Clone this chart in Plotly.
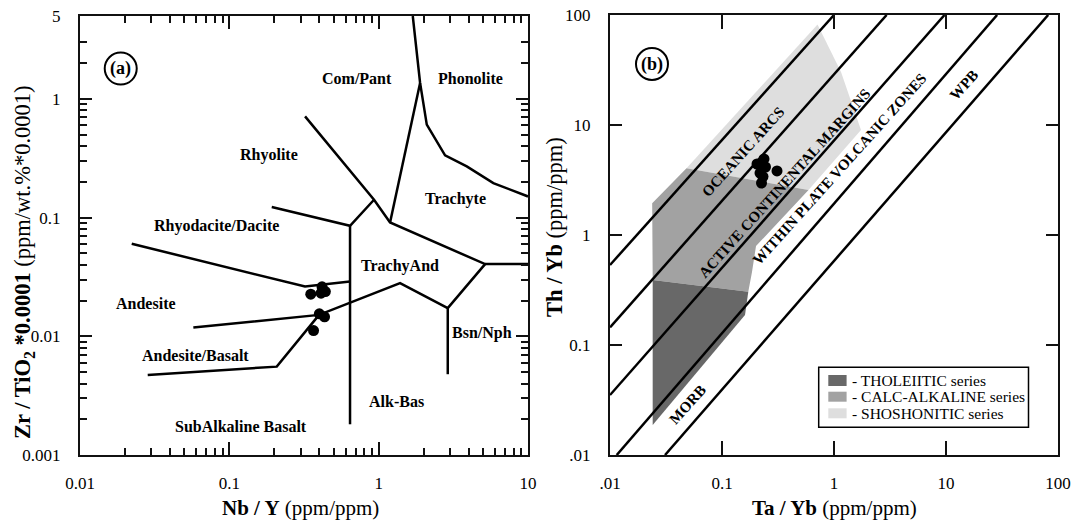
import numpy as np
import plotly.graph_objects as go

FONT = "Liberation Serif, Times New Roman, serif"

# ---------------- Panel (a): Nb/Y vs Zr/TiO2 field boundaries ----------------
phon_x = [1.692, 1.894, 2.100, 2.784, 3.89, 5.86, 10.0]
phon_y = [5.0, 1.364, 0.607, 0.3345, 0.270, 0.1956, 0.1508]
trl_x = [1.894, 1.192]
trl_y = [1.364, 0.0910]
rhy_x = [0.3214, 0.931, 1.192, 5.16, 10.0]
rhy_y = [0.713, 0.1415, 0.0910, 0.0406, 0.0406]
rdc_x = [0.1923, 0.643, 0.931]
rdc_y = [0.1228, 0.0854, 0.1415]
vert_x = [0.643, 0.643]
vert_y = [0.0854, 0.001815]
and_x = [0.0222, 0.3214, 0.643]
and_y = [0.0602, 0.02627, 0.02894]
ab_x = [0.05741, 0.3989, 1.391, 2.902, 5.16]
ab_y = [0.01185, 0.01516, 0.02805, 0.01727, 0.0406]
bsn_x = [2.902, 2.902]
bsn_y = [0.01727, 0.004793]
sub_x = [0.02841, 0.2078, 0.3989]
sub_y = [0.004727, 0.005554, 0.01516]

a_lines = [(phon_x, phon_y), (trl_x, trl_y), (rhy_x, rhy_y), (rdc_x, rdc_y),
           (vert_x, vert_y), (and_x, and_y), (ab_x, ab_y), (bsn_x, bsn_y), (sub_x, sub_y)]

# samples panel (a)
nby = [0.351, 0.4177, 0.4395, 0.4114, 0.4007, 0.4341, 0.3664]
zrti = [0.02266, 0.02612, 0.02384, 0.02311, 0.01546, 0.01459, 0.01118]

a_labels = ["Com/Pant", "Phonolite", "Rhyolite", "Trachyte", "Rhyodacite/Dacite", "TrachyAnd",
            "Andesite", "Bsn/Nph", "Andesite/Basalt", "Alk-Bas", "SubAlkaline Basalt"]
a_lab_x = [0.7166, 4.095, 0.1845, 3.249, 0.0815, 1.391, 0.02767, 4.905, 0.0598, 1.308, 0.1198]
a_lab_y = [1.474, 1.474, 0.339, 0.1443, 0.0854, 0.03926, 0.01903, 0.01075, 0.00684, 0.002815, 0.001733]

# ---------------- Panel (b): Ta/Yb vs Th/Yb ----------------
diag_x0 = [0.01, 0.01, 0.01, 0.01148, 0.0310]
diag_y0 = [0.5337, 0.1448, 0.0351, 0.01, 0.01]
diag_x1 = [1.0, 2.95, 9.7, 28.6, 81.7]
diag_y1 = [100, 100, 100, 100, 100]

thol_x = [0.02406, 0.1717, 0.1605, 0.02406]
thol_y = [0.390, 0.305, 0.1874, 0.01874]
calc_x = [0.0238, 0.0482, 0.592, 0.2012, 0.1853, 0.1717, 0.02406]
calc_y = [1.942, 4.04, 2.565, 0.794, 0.461, 0.305, 0.390]
shos_x = [0.0482, 0.7125, 1.155, 1.742, 0.592]
shos_y = [4.04, 81.97, 30.3, 9.01, 2.565]

tayb = [0.2054, 0.2371, 0.2446, 0.2184, 0.3098, 0.2253, 0.2323]
thyb = [4.42, 4.91, 4.15, 3.66, 3.82, 2.97, 3.40]

b_labels = ["OCEANIC ARCS", "ACTIVE CONTINENTAL MARGINS", "WITHIN PLATE VOLCANIC ZONES", "WPB", "MORB"]
b_lab_x = [0.154, 0.3614, 1.122, 14.48, 0.0497]
b_lab_y = [5.68, 3.001, 3.98, 23.1, 0.0291]

series_names = ["- THOLEIITIC series", "- CALC-ALKALINE series", "- SHOSHONITIC series"]
series_colors = ["#686868", "#a2a2a2", "#dedede"]

fig = go.Figure()

# panel a lines
for xs, ys in a_lines:
    fig.add_trace(go.Scatter(x=xs, y=ys, mode="lines", line=dict(color="black", width=2.5),
                             xaxis="x", yaxis="y", hoverinfo="skip", showlegend=False))
fig.add_trace(go.Scatter(x=nby, y=zrti, mode="markers", marker=dict(color="black", size=11),
                         xaxis="x", yaxis="y", showlegend=False))

# panel b fields
for xs, ys, c, n in [(shos_x, shos_y, series_colors[2], series_names[2]),
                     (calc_x, calc_y, series_colors[1], series_names[1]),
                     (thol_x, thol_y, series_colors[0], series_names[0])]:
    fig.add_trace(go.Scatter(x=xs + [xs[0]], y=ys + [ys[0]], mode="lines", fill="toself",
                             fillcolor=c, line=dict(width=0, color=c), xaxis="x2", yaxis="y2",
                             name=n, hoverinfo="skip", showlegend=False))
for i in range(len(diag_x0)):
    fig.add_trace(go.Scatter(x=[diag_x0[i], diag_x1[i]], y=[diag_y0[i], diag_y1[i]], mode="lines",
                             line=dict(color="black", width=2.5), xaxis="x2", yaxis="y2",
                             hoverinfo="skip", showlegend=False))
fig.add_trace(go.Scatter(x=tayb, y=thyb, mode="markers", marker=dict(color="black", size=11),
                         xaxis="x2", yaxis="y2", showlegend=False))

# circled panel letters
fig.add_trace(go.Scatter(x=[0.01874], y=[1.802], mode="markers",
                         marker=dict(symbol="circle-open", size=32, color="black", line=dict(width=2)),
                         xaxis="x", yaxis="y", showlegend=False, hoverinfo="skip"))
fig.add_trace(go.Scatter(x=[0.02371], y=[35.85], mode="markers",
                         marker=dict(symbol="circle-open", size=32, color="black", line=dict(width=2)),
                         xaxis="x2", yaxis="y2", showlegend=False, hoverinfo="skip"))

C = dict(showarrow=False, xanchor="center", yanchor="middle")
ann = []
for t, x, y in zip(a_labels, a_lab_x, a_lab_y):
    ann.append(dict(text="<b>%s</b>" % t, x=np.log10(x), y=np.log10(y), xref="x", yref="y",
                    font=dict(family=FONT, size=16, color="black"), **C))
for t, x, y in zip(b_labels, b_lab_x, b_lab_y):
    ann.append(dict(text="<b>%s</b>" % t, x=np.log10(x), y=np.log10(y), xref="x2", yref="y2",
                    textangle=-48, font=dict(family=FONT, size=15, color="black"), **C))
ann.append(dict(text="<b>(a)</b>", x=np.log10(0.01874), y=np.log10(1.802), xref="x", yref="y",
                font=dict(family=FONT, size=18, color="black"), **C))
ann.append(dict(text="<b>(b)</b>", x=np.log10(0.02371), y=np.log10(35.85), xref="x2", yref="y2",
                font=dict(family=FONT, size=18, color="black"), **C))

L, R, T, B, W, H = 80, 15, 15, 67, 1073, 522
PW, PH = W - L - R, H - T - B


def px(x):
    return (x - L) / PW


def py(y):
    return (H - B - y) / PH


# axis titles
ann.append(dict(text="<b>Nb / Y</b> (ppm/ppm)", x=px(300), y=py(508), xref="paper", yref="paper",
                font=dict(family=FONT, size=21, color="black"), **C))
ann.append(dict(text="<b>Ta / Yb</b> (ppm/ppm)", x=px(834), y=py(508), xref="paper", yref="paper",
                font=dict(family=FONT, size=21, color="black"), **C))
ann.append(dict(text="<b>Zr / TiO<sub>2</sub> *0.0001</b> (ppm/wt.%*0.0001)", x=px(24), y=py(262),
                xref="paper", yref="paper", textangle=-90,
                font=dict(family=FONT, size=22.5, color="black"), **C))
ann.append(dict(text="<b>Th / Yb</b> (ppm/ppm)", x=px(554), y=py(227), xref="paper", yref="paper",
                textangle=-90, font=dict(family=FONT, size=22.5, color="black"), **C))

# legend (drawn manually)
shapes = [dict(type="rect", xref="paper", yref="paper", x0=px(818.7), x1=px(1028.5), y0=py(427.3),
               y1=py(367.3), line=dict(color="black", width=1.5), fillcolor="white", layer="above")]
rows = [(375, 386, 380), (391.7, 401.7, 396.5), (408.3, 418.3, 413)]
for (y0, y1, yc), c, n in zip(rows, series_colors, series_names):
    shapes.append(dict(type="rect", xref="paper", yref="paper", x0=px(828.3), x1=px(846.6),
                       y0=py(y1), y1=py(y0), line=dict(width=0), fillcolor=c, layer="above"))
    ann.append(dict(text=n, x=px(850), y=py(yc), xref="paper", yref="paper", xanchor="left",
                    yanchor="middle", showarrow=False, font=dict(family=FONT, size=15.5, color="black")))

minor_x = [m * 10.0 ** k for k in (-2, -1, 0) for m in range(2, 10)]
minor_y = [m * 10.0 ** k for k in (-3, -2, -1) for m in range(2, 10)] + [2, 3]

tickfont = dict(family=FONT, size=17, color="black")
common = dict(type="log", showgrid=False, zeroline=False, showline=True, linewidth=2,
              linecolor="#111", mirror="ticks", ticks="inside", tickwidth=1.5, tickcolor="#111",
              tickfont=tickfont, automargin=False)

fig.update_layout(
    template="none",
    width=W, height=H, margin=dict(l=L, r=R, t=T, b=B, autoexpand=False),
    paper_bgcolor="white", plot_bgcolor="white", showlegend=False,
    xaxis=dict(domain=[0, 448 / PW], range=[-2, 1], tickvals=[0.01, 0.1, 1, 10],
               ticktext=["0.01", "0.1", "1", "10"], ticklen=13, ticklabelstandoff=12,
               minor=dict(tickvals=minor_x, ticks="inside", ticklen=7, tickwidth=1.5,
                          tickcolor="#111", showgrid=False), anchor="y", **common),
    yaxis=dict(domain=[0, 439 / PH], range=[-3, np.log10(5)], tickvals=[0.001, 0.01, 0.1, 1, 5],
               ticktext=["0.001", "0.01", "0.1", "1", "5"], ticklen=12, ticklabelstandoff=14,
               minor=dict(tickvals=minor_y, ticks="inside", ticklen=7, tickwidth=1.5,
                          tickcolor="#111", showgrid=False), anchor="x", **common),
    xaxis2=dict(domain=[1 - 448 / PW, 1], range=[-2, 2], tickvals=[0.01, 0.1, 1, 10, 100],
                ticktext=[".01", "0.1", "1", "10", "100"], ticklen=14, ticklabelstandoff=12,
                anchor="y2", **common),
    yaxis2=dict(domain=[0, 1], range=[-2, 2], tickvals=[0.01, 0.1, 1, 10, 100],
                ticktext=[".01", "0.1", "1", "10", "100"], ticklen=12, ticklabelstandoff=14,
                anchor="x2", **common),
    annotations=ann, shapes=shapes,
)

fig.write_html("out.html", config={"displayModeBar": False},
               post_script="document.body.style.margin='0px';document.body.style.overflow='hidden';")
